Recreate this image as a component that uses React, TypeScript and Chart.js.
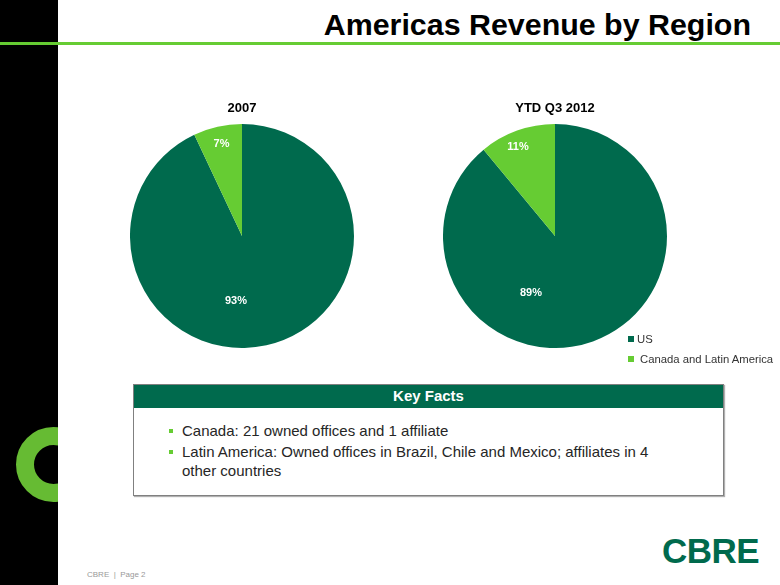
import React, { useEffect, useRef } from "react";
import { Chart, registerables } from "chart.js";

Chart.register(...registerables);

// ---- data ----
const regions = ["US", "Canada and Latin America"];
const periods = ["2007", "YTD Q3 2012"];
const share2007 = [93, 7];
const shareYtdQ3_2012 = [89, 11];
const regionColors = ["#006A4D", "#66CC33"];
const keyFacts = [
  "Canada: 21 owned offices and 1 affiliate",
  "Latin America: Owned offices in Brazil, Chile and Mexico; affiliates in 4 other countries",
];
const slideTitle = "Americas Revenue by Region";
const footerText = "CBRE  |  Page 2";

const FONT = '"Liberation Sans", Arial, Helvetica, sans-serif';

const sliceLabelPlugin = {
  id: "sliceLabels",
  afterDatasetsDraw(chart: any, _args: any, opts: any) {
    const ctx = chart.ctx;
    const meta = chart.getDatasetMeta(0);
    const data = chart.data.datasets[0].data as number[];
    const total = data.reduce((a, b) => a + b, 0);
    ctx.save();
    ctx.font = `bold 11px ${FONT}`;
    ctx.fillStyle = "#ffffff";
    ctx.textAlign = "center";
    ctx.textBaseline = "middle";
    meta.data.forEach((arc: any, i: number) => {
      const p = arc.getProps(["x", "y", "startAngle", "endAngle", "outerRadius"], true);
      const mid = (p.startAngle + p.endAngle) / 2 + ((opts.shift && opts.shift[i]) || 0) * Math.PI / 180;
      const r = p.outerRadius * opts.frac[i];
      ctx.fillText(Math.round((data[i] / total) * 100) + "%", p.x + Math.cos(mid) * r, p.y + Math.sin(mid) * r);
    });
    ctx.restore();
  },
};

function PieChart(props: { title: string; values: number[]; frac: number[]; shift: number[] }) {
  const ref = useRef<HTMLCanvasElement | null>(null);
  useEffect(() => {
    if (!ref.current) return;
    const chart = new Chart(ref.current, {
      type: "pie",
      data: {
        labels: regions,
        datasets: [
          {
            data: props.values,
            backgroundColor: regionColors,
            borderWidth: 0,
          },
        ],
      },
      options: {
        animation: false,
        responsive: true,
        maintainAspectRatio: false,
        layout: { padding: 0 },
        plugins: {
          legend: { display: false },
          tooltip: { enabled: false },
          title: {
            display: true,
            text: props.title,
            color: "#000000",
            font: { family: FONT, size: 13, weight: "bold" },
            padding: { top: 4.7, bottom: 7.7 },
          },
          sliceLabels: { frac: props.frac, shift: props.shift },
        } as any,
      },
      plugins: [sliceLabelPlugin],
    });
    return () => chart.destroy();
  }, []);
  return <canvas ref={ref} />;
}

export default function App() {
  const abs = (s: React.CSSProperties): React.CSSProperties => ({ position: "absolute", ...s });
  return (
    <div
      style={{
        position: "fixed",
        left: 0,
        top: 0,
        width: 780,
        height: 585,
        background: "#ffffff",
        overflow: "hidden",
        fontFamily: FONT,
      }}
    >
      {/* left black bar with green ring */}
      <div style={abs({ left: 0, top: 0, width: 58, height: 585, background: "#000", overflow: "hidden" })}>
        <div
          style={abs({
            left: 16,
            top: 427,
            width: 75,
            height: 75,
            boxSizing: "border-box",
            border: "18px solid #66BB33",
            borderRadius: "50%",
          })}
        />
      </div>
      {/* title */}
      <div
        style={abs({
          right: 29,
          top: 9,
          fontSize: 30.4,
          lineHeight: "30px",
          fontWeight: "bold",
          color: "#000",
          whiteSpace: "nowrap",
        })}
      >
        {slideTitle}
      </div>
      {/* green rule */}
      <div style={abs({ left: 0, top: 42, width: 780, height: 3, background: "#66CC33" })} />

      {/* pies */}
      <div style={abs({ left: 130, top: 96, width: 224, height: 252 })}>
        <PieChart title={periods[0]} values={share2007} frac={[0.583, 0.84]} shift={[17.9, 0]} />
      </div>
      <div style={abs({ left: 443, top: 96, width: 224, height: 252 })}>
        <PieChart title={periods[1]} values={shareYtdQ3_2012} frac={[0.556, 0.864]} shift={[42.5, -2.7]} />
      </div>

      {/* legend */}
      <div style={abs({ left: 628, top: 329, fontSize: 11.3, color: "#333" })}>
        {regions.map((r, i) => (
          <div key={r} style={{ height: 20, lineHeight: "20px", whiteSpace: "nowrap", position: "relative" }}>
            <span
              style={abs({ left: 0, top: 7, width: 6, height: 6, background: regionColors[i] })}
            />
            <span style={{ marginLeft: i === 0 ? 9 : 12 }}>{r}</span>
          </div>
        ))}
      </div>

      {/* key facts box */}
      <div
        style={abs({
          left: 133,
          top: 384,
          width: 591,
          height: 112,
          boxSizing: "border-box",
          border: "1px solid #808080",
          boxShadow: "1px 1px 1px #b0b0b0",
          background: "#fff",
        })}
      >
        <div
          style={{
            height: 23,
            lineHeight: "22px",
            background: "#006A4D",
            color: "#fff",
            fontWeight: "bold",
            fontSize: 15,
            textAlign: "center",
          }}
        >
          Key Facts
        </div>
        <div style={abs({ left: 48, top: 36.3, width: 485 })}>
          {keyFacts.map((f, i) => (
            <div
              key={i}
              style={{
                position: "relative",
                fontSize: 15,
                lineHeight: "19px",
                color: "#262626",
                marginBottom: 2,
              }}
            >
              <span style={abs({ left: -13, top: 7.7, width: 4, height: 4, background: "#66CC33" })} />
              {f}
            </div>
          ))}
        </div>
      </div>

      {/* CBRE logo */}
      <div
        style={abs({
          left: 662,
          top: 533,
          fontSize: 35,
          lineHeight: "35px",
          fontWeight: "bold",
          color: "#006A4D",
          letterSpacing: -0.5,
        })}
      >
        CBRE
      </div>

      {/* footer */}
      <div style={abs({ left: 87, top: 570, fontSize: 8, lineHeight: "10px", color: "#999", whiteSpace: "pre" })}>
        {footerText}
      </div>
    </div>
  );
}
